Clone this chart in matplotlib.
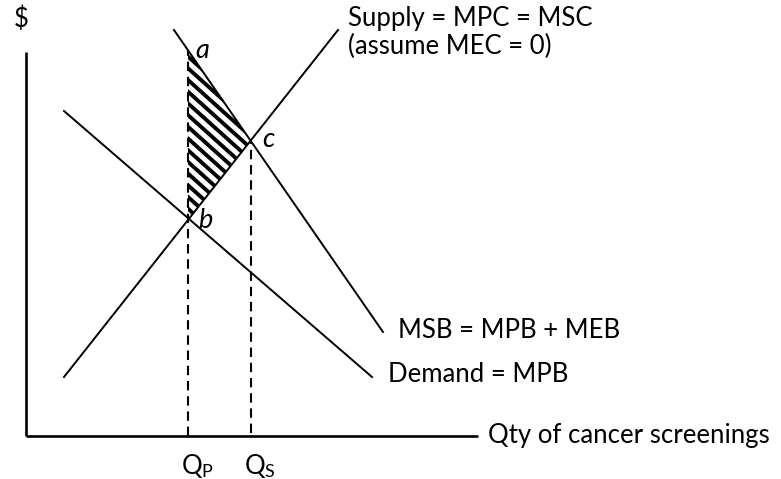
import numpy as np
import matplotlib
matplotlib.use("Agg")
import matplotlib.pyplot as plt
from matplotlib.patches import Polygon

# ---- data (quantity, price) in chart units ----
supply_q = [38, 312]
supply_p = [59, 406]
demand_q = [38, 346]
demand_p = [325, 59]
msb_q = [148, 357]
msb_p = [406, 104]
q_private = 162
axis_q_max = 452
axis_p_max = 384

labels = {
    "supply": "Supply = MPC = MSC",
    "supply2": "(assume MEC = 0)",
    "msb": "MSB = MPB + MEB",
    "demand": "Demand = MPB",
    "xlabel": "Qty of cancer screenings",
    "ylabel": "$",
}

FONT = "Lato"
plt.rcParams["font.family"] = [FONT, "DejaVu Sans"]
plt.rcParams["mathtext.fontset"] = "custom"
plt.rcParams["mathtext.rm"] = FONT
plt.rcParams["mathtext.it"] = FONT + ":italic"


def line_fn(qs, ps):
    m = (ps[1] - ps[0]) / (qs[1] - qs[0])
    return m, ps[0] - m * qs[0]

ms, bs = line_fn(supply_q, supply_p)
mm, bm = line_fn(msb_q, msb_p)
md, bd = line_fn(demand_q, demand_p)

# points
a = (q_private, mm * q_private + bm)
b = (q_private, ms * q_private + bs)
qc = (bm - bs) / (ms - mm)
c = (qc, ms * qc + bs)

fig = plt.figure(figsize=(7.81, 4.79), dpi=100)
ax = fig.add_axes([0, 0, 1, 1])
ax.set_xlim(-26, 755)
ax.set_ylim(-43, 436)
ax.axis("off")

lw = 1.4
ax.plot([0, 0], [0, axis_p_max], color="black", lw=1.9, solid_capstyle="butt")
ax.plot([0, axis_q_max], [0, 0], color="black", lw=1.9, solid_capstyle="butt")
ax.plot(supply_q, supply_p, color="black", lw=lw)
ax.plot(demand_q, demand_p, color="black", lw=lw)
ax.plot(msb_q, msb_p, color="black", lw=lw)

# dashed verticals
ax.plot([a[0], a[0]], [0, a[1]], color="black", lw=1.5, dashes=(4.5, 2.8))
ax.plot([c[0], c[0]], [3, c[1]], color="black", lw=1.5, dashes=(4.5, 2.8))

# hatched triangle: diagonal stripes clipped to polygon
tri = Polygon([a, b, c], closed=True, facecolor="none", edgecolor="none")
ax.add_patch(tri)
spacing = 11.7
for k in np.arange(b[1] + b[0] - 40, a[1] + c[0] + 40, spacing):
    ln, = ax.plot([0, 400], [k, k - 0.9 * 400], color="black", lw=2.8,
                  solid_capstyle="butt")
    ln.set_clip_path(tri)

fs = 18.5
ax.text(-5, 417, labels["ylabel"], fontsize=fs, ha="center", va="center")
ax.text(a[0] + 7, a[1], "a", fontsize=fs + 1, style="italic", ha="left", va="center")
ax.text(b[0] + 10, b[1] - 1, "b", fontsize=fs + 1, style="italic", ha="left", va="center")
ax.text(c[0] + 12, c[1] + 1, "c", fontsize=fs + 1, style="italic", ha="left", va="center")
ax.text(322, 418, labels["supply"], fontsize=fs, ha="left", va="center")
ax.text(322, 390, labels["supply2"], fontsize=fs, ha="left", va="center")
ax.text(372, 105, labels["msb"], fontsize=fs, ha="left", va="center")
ax.text(362, 62, labels["demand"], fontsize=fs, ha="left", va="center")
ax.text(462, 0, labels["xlabel"], fontsize=fs, ha="left", va="center")
ax.text(q_private - 7, -30, r"Q$_{\mathregular{P}}$", fontsize=fs, ha="left", va="center")
ax.text(c[0] - 7, -30, r"Q$_{\mathregular{S}}$", fontsize=fs, ha="left", va="center")

fig.savefig("out.png", dpi=100)
